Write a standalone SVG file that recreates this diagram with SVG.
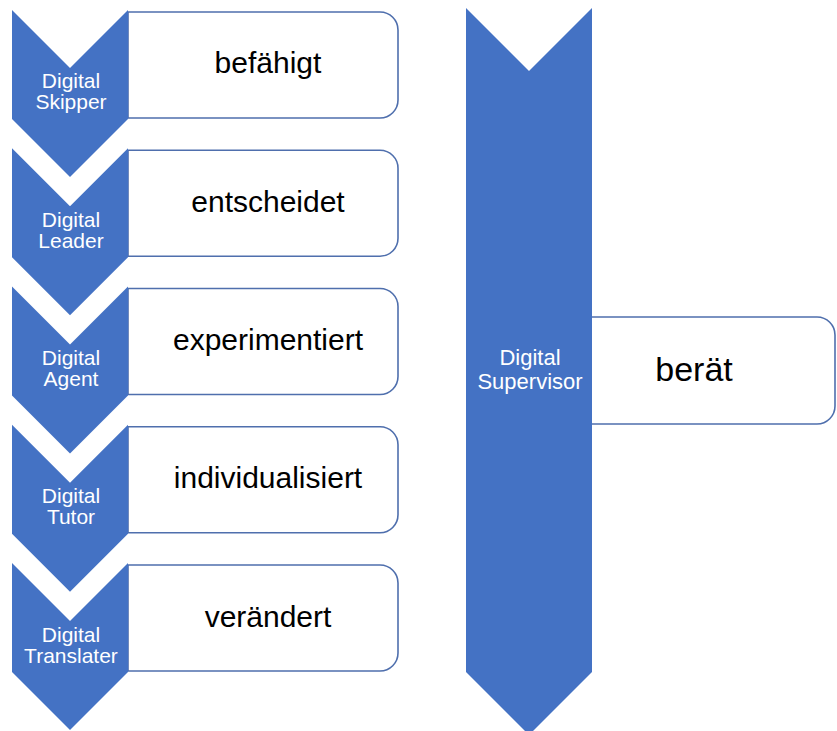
<svg xmlns="http://www.w3.org/2000/svg" width="837" height="731" viewBox="0 0 837 731">
<style>
.chev{fill:#4472C4;stroke:none}
.box{fill:#FFFFFF;stroke:#4F6FAD;stroke-width:1.6}
.lbl{font-family:"Liberation Sans",Arial,sans-serif;font-size:21px;fill:#FFFFFF;text-anchor:middle}
.lblR{font-family:"Liberation Sans",Arial,sans-serif;font-size:22px;fill:#FFFFFF;text-anchor:middle}
.txt{font-family:"Liberation Sans",Arial,sans-serif;font-size:30px;fill:#000000;text-anchor:middle}
.txtR{font-family:"Liberation Sans",Arial,sans-serif;font-size:34px;fill:#000000;text-anchor:middle}
</style>
<rect width="837" height="731" fill="#FFFFFF"/>
<g id="connectors"/>
<g id="skipper">
<path class="box" d="M128,12 H380 A18,18 0 0 1 398,30 V100 A18,18 0 0 1 380,118 H128 Z"/>
<path class="chev" d="M12,10 L70,68 L128,10 L128,119 L70,177 L12,119 Z"/>
<text class="lbl" x="71" y="88">Digital</text>
<text class="lbl" x="71" y="109">Skipper</text>
<text class="txt" x="268" y="73">befähigt</text>
</g>
<g id="leader">
<path class="box" d="M128,150.25 H380 A18,18 0 0 1 398,168.25 V238.25 A18,18 0 0 1 380,256.25 H128 Z"/>
<path class="chev" d="M12,148.25 L70,206.25 L128,148.25 L128,257.25 L70,315.25 L12,257.25 Z"/>
<text class="lbl" x="71" y="226.5">Digital</text>
<text class="lbl" x="71" y="247.5">Leader</text>
<text class="txt" x="268" y="211.5">entscheidet</text>
</g>
<g id="agent">
<path class="box" d="M128,288.5 H380 A18,18 0 0 1 398,306.5 V376.5 A18,18 0 0 1 380,394.5 H128 Z"/>
<path class="chev" d="M12,286.5 L70,344.5 L128,286.5 L128,395.5 L70,453.5 L12,395.5 Z"/>
<text class="lbl" x="71" y="364.5">Digital</text>
<text class="lbl" x="71" y="385.5">Agent</text>
<text class="txt" x="268" y="349.5">experimentiert</text>
</g>
<g id="tutor">
<path class="box" d="M128,426.75 H380 A18,18 0 0 1 398,444.75 V514.75 A18,18 0 0 1 380,532.75 H128 Z"/>
<path class="chev" d="M12,424.75 L70,482.75 L128,424.75 L128,533.75 L70,591.75 L12,533.75 Z"/>
<text class="lbl" x="71" y="503">Digital</text>
<text class="lbl" x="71" y="524">Tutor</text>
<text class="txt" x="268" y="488">individualisiert</text>
</g>
<g id="translater">
<path class="box" d="M128,565 H380 A18,18 0 0 1 398,583 V653 A18,18 0 0 1 380,671 H128 Z"/>
<path class="chev" d="M12,563 L70,621 L128,563 L128,672 L70,730 L12,672 Z"/>
<text class="lbl" x="71" y="641.5">Digital</text>
<text class="lbl" x="71" y="662.5">Translater</text>
<text class="txt" x="268" y="627">verändert</text>
</g>
<g id="supervisor">
<path class="box" d="M591,317 H817 A18,18 0 0 1 835,335 V406 A18,18 0 0 1 817,424 H591 Z"/>
<path class="chev" d="M466,8 L529,71 L592,8 L592,672 L529,735 L466,672 Z"/>
<text class="lblR" x="530" y="365">Digital</text>
<text class="lblR" x="530" y="389">Supervisor</text>
<text class="txtR" x="694" y="381">berät</text>
</g>
</svg>
